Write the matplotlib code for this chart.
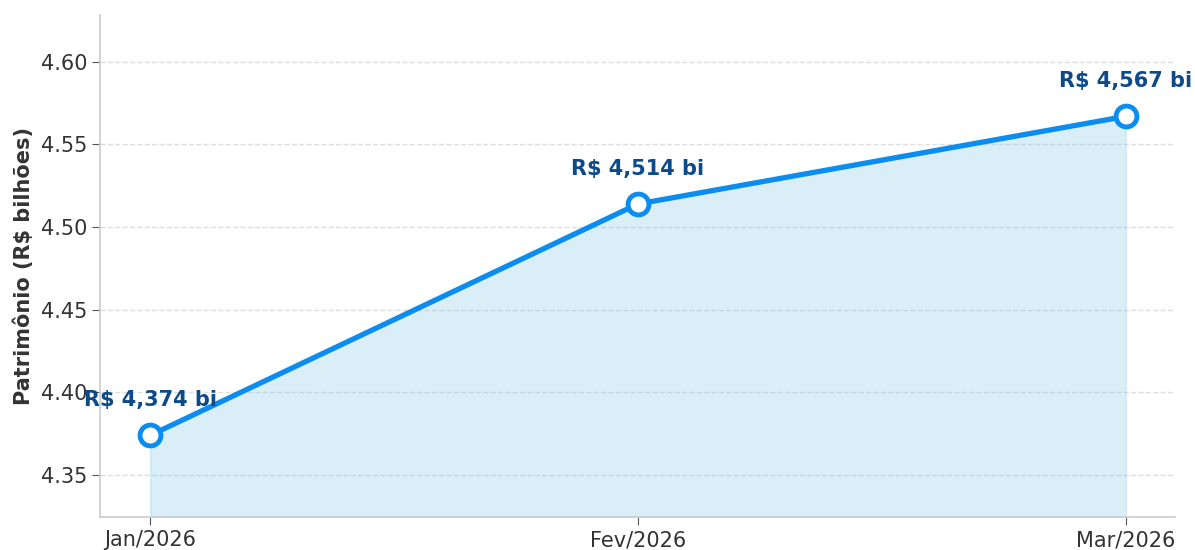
import matplotlib

matplotlib.use("Agg")
import matplotlib.pyplot as plt

plt.rcParams["font.family"] = ["DejaVu Sans"]

months = ["Jan/2026", "Fev/2026", "Mar/2026"]
patrimonio = [4.374, 4.514, 4.567]
labels = ["R$ 4,374 bi", "R$ 4,514 bi", "R$ 4,567 bi"]

LINE = "#0a8cf0"
TEXT = "#0d4a8a"

fig, ax = plt.subplots(figsize=(11.95, 5.5), dpi=100)
fig.subplots_adjust(left=0.084, right=0.983, top=0.973, bottom=0.06)

x = list(range(len(months)))
ax.fill_between(x, patrimonio, 4.30, color="#87c8ea", alpha=0.3, zorder=1)
ax.plot(x, patrimonio, "-o", color=LINE, lw=3.8, ms=15, mfc="white",
        mec=LINE, mew=3.5, zorder=3)
for xi, v, s in zip(x, patrimonio, labels):
    ax.annotate(s, (xi, v), xytext=(0, 18), textcoords="offset points",
                ha="center", va="bottom", fontsize=15, fontweight="bold",
                color=TEXT)

ax.set_xticks(x)
ax.set_xticklabels(months)
ax.set_xlim(-0.102, 2.1)
ax.set_ylim(4.3246, 4.6284)
ax.set_yticks([4.35, 4.40, 4.45, 4.50, 4.55, 4.60])
ax.set_yticklabels([f"{t:.2f}" for t in [4.35, 4.40, 4.45, 4.50, 4.55, 4.60]])
ax.set_ylabel("Patrimônio (R$ bilhões)", fontsize=15, fontweight="bold",
              color="#333333", labelpad=5)
ax.tick_params(labelsize=15, colors="#333333", length=6, color="#555555")
ax.yaxis.grid(True, ls="--", color="#dddddd", lw=1)
ax.set_axisbelow(True)
for sp in ["top", "right"]:
    ax.spines[sp].set_visible(False)
for sp in ["left", "bottom"]:
    ax.spines[sp].set_color("#cccccc")
    ax.spines[sp].set_linewidth(1.2)

fig.savefig("out.png", dpi=100)
